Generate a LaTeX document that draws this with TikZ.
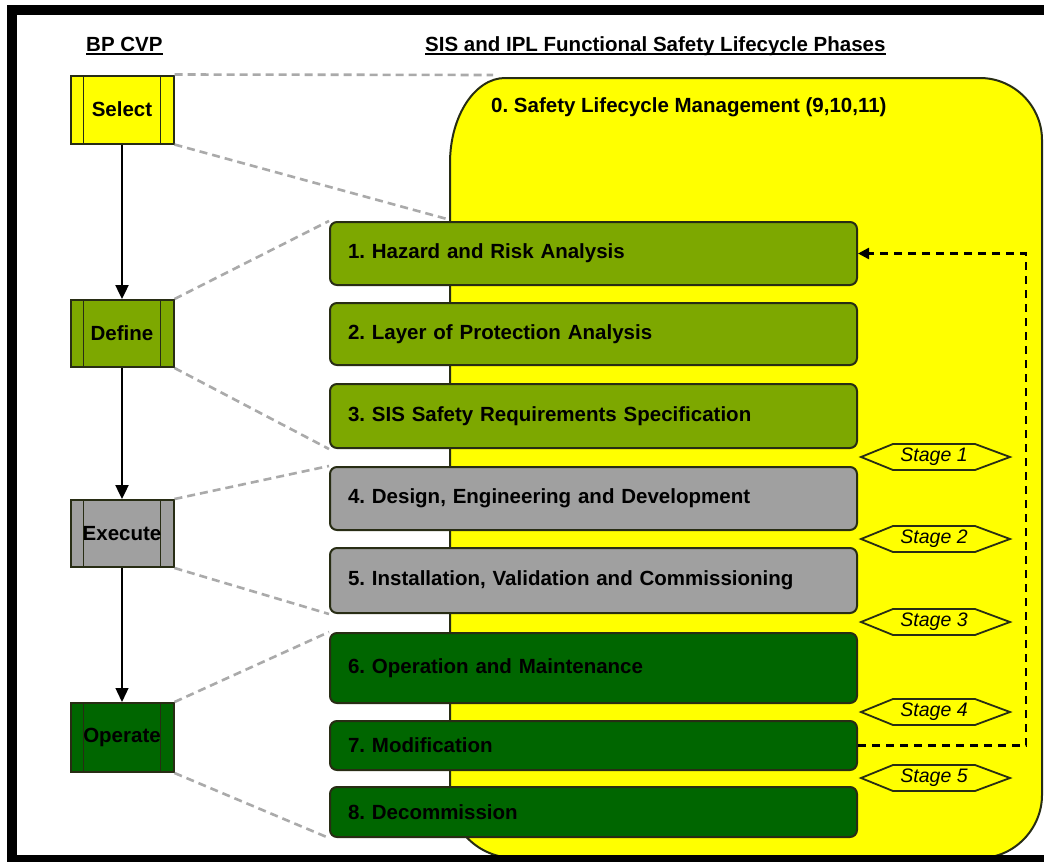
\documentclass[tikz,border=0pt]{standalone}
\usepackage{fontspec}
\setmainfont{Liberation Sans}
\usetikzlibrary{arrows.meta}
\definecolor{yel}{RGB}{255,255,0}
\definecolor{lgreen}{RGB}{125,168,0}
\definecolor{boxgray}{RGB}{160,160,160}
\definecolor{dkgreen}{RGB}{0,102,0}
\definecolor{edge}{RGB}{40,45,20}
\definecolor{dashgray}{RGB}{170,170,170}
\newcommand{\boxfont}{\fontsize{20.5}{24}\selectfont\bfseries\frenchspacing}
\newcommand{\stagefont}{\fontsize{19.5}{22}\selectfont\itshape}
\begin{document}
\begin{tikzpicture}[x=1pt,y=-1pt,
  phase/.style={draw=edge, line width=2pt, rounded corners=7pt,
    minimum width=527pt, inner xsep=18pt, inner ysep=0pt, text width=491pt,
    align=left, font=\boxfont, text=black},
  cvp/.style={draw=edge, line width=2pt, minimum width=103pt, minimum height=68pt,
    inner sep=0pt, font=\boxfont, text=black,
    path picture={
      \draw[edge, line width=1.8pt] ([xshift=13pt]path picture bounding box.north west) -- ([xshift=13pt]path picture bounding box.south west);
      \draw[edge, line width=1.8pt] ([xshift=-13pt]path picture bounding box.north east) -- ([xshift=-13pt]path picture bounding box.south east);}},
  flow/.style={draw=black, line width=2.4pt, -{Triangle[length=14pt,width=13pt]}},
  gdash/.style={draw=dashgray, line width=2.6pt, dash pattern=on 8pt off 5pt},
  fb/.style={draw=black, line width=2.4pt, dash pattern=on 8pt off 6pt, -{Triangle[length=11pt,width=11pt]}},
  hexa/.style={draw=edge, line width=1.8pt, fill=yel},
  stagetxt/.style={font=\stagefont, text=black, inner sep=0pt},
  head/.style={font=\boxfont, text=black, inner sep=0pt, anchor=base west}
]
\useasboundingbox (0,0) rectangle (1044,862);
\fill[white] (0,0) rectangle (1044,862);

% big yellow management area
\draw[draw=edge, line width=2pt, fill=yel]
  (450,795) -- (450,163)
  .. controls (450,116) and (475,78) .. (505,78)
  -- (980,78)
  .. controls (1014,78) and (1042,106) .. (1042,140)
  -- (1042,795)
  .. controls (1042,829) and (1014,858) .. (980,858)
  -- (515,858)
  .. controls (479,858) and (450,830) .. (450,795) -- cycle;
\node[head] (mgmt) at (491,112) {0. Safety Lifecycle Management (9,10,11)};

% lifecycle phase boxes
\node[phase, fill=lgreen, minimum height=63pt] (p1) at (593.5,253.5) {1. Hazard and Risk Analysis};
\node[phase, fill=lgreen, minimum height=62pt] (p2) at (593.5,334) {2. Layer of Protection Analysis};
\node[phase, fill=lgreen, minimum height=64pt] (p3) at (593.5,416) {3. SIS Safety Requirements Specification};
\node[phase, fill=boxgray, minimum height=63pt] (p4) at (593.5,498.5) {4. Design, Engineering and Development};
\node[phase, fill=boxgray, minimum height=65pt] (p5) at (593.5,580.5) {5. Installation, Validation and Commissioning};
\node[phase, fill=dkgreen, minimum height=70pt] (p6) at (593.5,668) {6. Operation and Maintenance};
\node[phase, fill=dkgreen, minimum height=49pt] (p7) at (593.5,745.5) {7. Modification};
\node[phase, fill=dkgreen, minimum height=50pt] (p8) at (593.5,812) {8. Decommission};

% BP CVP boxes
\node[cvp, fill=yel] (sel) at (122,109.5) {Select};
\node[cvp, fill=lgreen, minimum height=67pt] (def) at (122,333.5) {Define};
\node[cvp, fill=boxgray, minimum height=67pt] (exe) at (122,533.5) {Execute};
\node[cvp, fill=dkgreen, minimum height=69pt] (ope) at (122,737.5) {Operate};

\draw[flow] (sel) -- (def);
\draw[flow] (def) -- (exe);
\draw[flow, line width=1.3pt] (exe) -- (ope);

% grey dashed scope lines
\coordinate (selA) at (493,75);
\coordinate (selB) at (447,219);
\draw[gdash] (sel.north east) -- (selA);
\draw[gdash] (sel.south east) -- (selB);
\draw[gdash] (def.north east) -- (p1.north west);
\draw[gdash] (def.south east) -- (p3.south west);
\draw[gdash] (exe.north east) -- (p4.north west);
\draw[gdash] (exe.south east) -- (p5.south west);
\draw[gdash] (ope.north east) -- (p6.north west);
\draw[gdash] (ope.south east) -- (p8.south west);

% stages
\foreach \c/\n in {457/1, 539/2, 622/3, 712/4, 778/5}{
  \draw[hexa] (861,\c) -- (893,\c-13) -- (975,\c-13) -- (1010,\c) -- (975,\c+13) -- (893,\c+13) -- cycle;
  \node[stagetxt] (st\n) at (934,\c) {Stage \n};
}

% feedback loop
\draw[fb] (p7.east) -- ++(168,0) |- (p1.east);

% headings
\node[head] (h1) at (86,51) {BP CVP};
\node[head] (h2) at (425,51) {SIS and IPL Functional Safety Lifecycle Phases};
\draw[black, line width=2pt] ([yshift=-3pt]h1.base west) -- ([yshift=-3pt]h1.base east);
\draw[black, line width=2pt] ([yshift=-3pt]h2.base west) -- ([yshift=-3pt]h2.base east);

% black frame
\fill[black] (7,5) rectangle (1044,15);
\fill[black] (7,5) rectangle (17,862);
\fill[black] (7,855) rectangle (1044,862);
\end{tikzpicture}
\end{document}
